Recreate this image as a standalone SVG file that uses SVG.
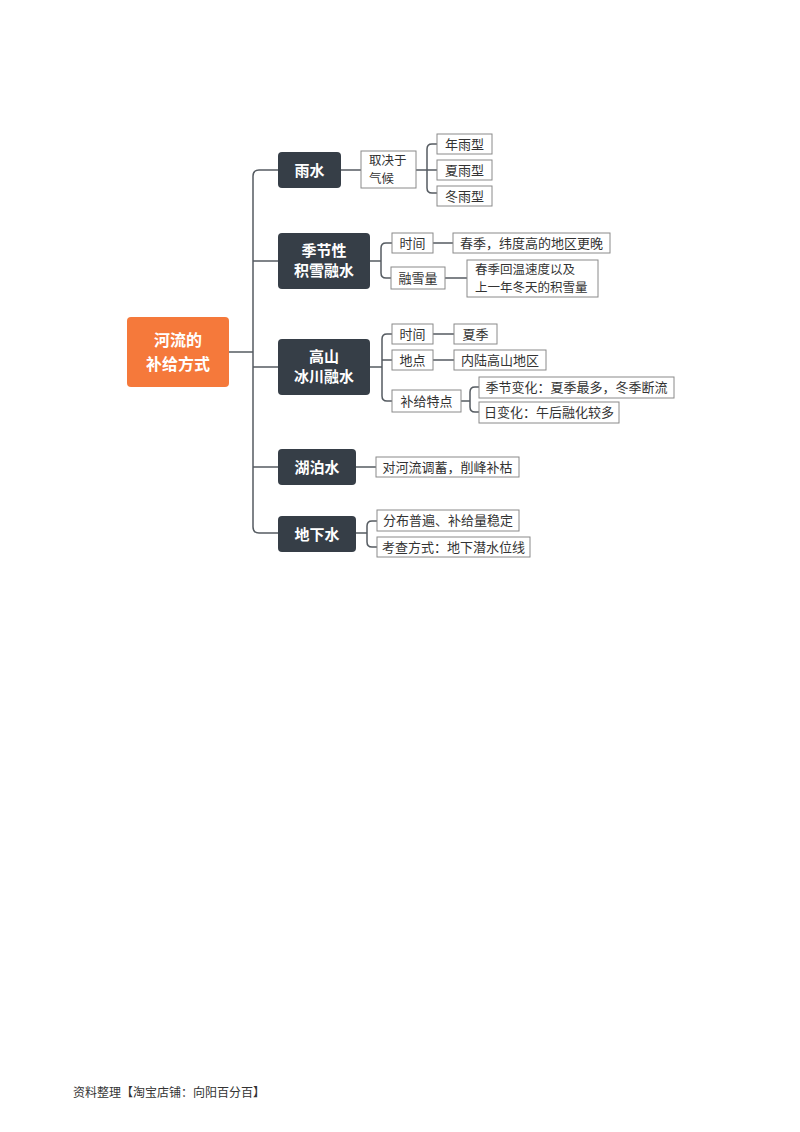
<svg xmlns="http://www.w3.org/2000/svg" width="800" height="1132" viewBox="0 0 800 1132">
<style>
.bg{fill:#ffffff}
.root rect{fill:#f5793b}
.main rect{fill:#363e47}
.root text,.main text{fill:#ffffff;font-family:"Noto Sans CJK SC","Noto Sans",sans-serif;font-weight:bold;font-size:15px;text-anchor:middle}
.root text{font-size:16px}
.leaf rect{fill:#ffffff;stroke:#8a8a8a;stroke-width:1}
.leaf text{fill:#333333;font-family:"Noto Sans CJK SC","Noto Sans",sans-serif;font-size:13px;text-anchor:middle}
.leaf text.two{font-size:12.5px;text-anchor:start}
#connectors path{fill:none;stroke:#555b61;stroke-width:1.5}
.foot{fill:#333;font-family:"Noto Sans CJK SC",sans-serif;font-size:12px}
</style>
<rect class="bg" x="0" y="0" width="800" height="1132"/>
<g id="connectors">
<path d="M229,352 H253"/>
<path d="M278,170 H259 Q253,170 253,176 V527 Q253,533 259,533 H278"/>
<path d="M253,261 H278 M253,367 H278 M253,467 H278"/>
<path d="M341,170 H361 M416,170 H437"/>
<path d="M437,144 H432 Q427,144 427,149 V188 Q427,193 432,193 H437"/>
<path d="M370,261 H381"/>
<path d="M392,243 H386 Q381,243 381,248 V273 Q381,278 386,278 H391"/>
<path d="M433,243 H453 M445,278 H467"/>
<path d="M370,367 H382"/>
<path d="M392,334 H387 Q382,334 382,339 V396 Q382,401 387,401 H392 M382,360 H392"/>
<path d="M433,334 H454 M433,360 H454"/>
<path d="M461,401 H470"/>
<path d="M479,387 H475 Q470,387 470,392 V407 Q470,412 475,412 H479"/>
<path d="M356,467 H376"/>
<path d="M356,533 H367"/>
<path d="M377,521 H372 Q367,521 367,526 V542 Q367,547 372,547 H377"/>
</g>
<g id="root" class="root"><rect x="127" y="317" width="102" height="70" rx="4"/><text x="178" y="346">河流的</text><text x="178" y="370">补给方式</text></g>
<g id="n-yushui" class="main"><rect x="278" y="152" width="63" height="36" rx="4"/><text x="309.5" y="175.5">雨水</text></g>
<g id="n-jixue" class="main"><rect x="278" y="233" width="92" height="56" rx="4"/><text x="324" y="256">季节性</text><text x="324" y="276">积雪融水</text></g>
<g id="n-bingchuan" class="main"><rect x="278" y="339" width="92" height="56" rx="4"/><text x="324" y="362">高山</text><text x="324" y="382">冰川融水</text></g>
<g id="n-hubo" class="main"><rect x="278" y="449" width="78" height="36" rx="4"/><text x="317" y="472.5">湖泊水</text></g>
<g id="n-dixia" class="main"><rect x="278" y="516" width="78" height="36" rx="4"/><text x="317" y="539.5">地下水</text></g>
<g id="l-qihou" class="leaf"><rect x="361" y="151" width="55" height="37"/><text class="two" x="369" y="165">取决于</text><text class="two" x="369" y="183">气候</text></g>
<g id="l-nian" class="leaf"><rect x="437" y="134" width="55" height="20"/><text x="464.5" y="148.5">年雨型</text></g>
<g id="l-xia" class="leaf"><rect x="437" y="160" width="55" height="20"/><text x="464.5" y="174.5">夏雨型</text></g>
<g id="l-dong" class="leaf"><rect x="437" y="186" width="55" height="20"/><text x="464.5" y="200.5">冬雨型</text></g>
<g id="l-shijian1" class="leaf"><rect x="392" y="233" width="41" height="20"/><text x="412.5" y="247.5">时间</text></g>
<g id="l-chunji" class="leaf"><rect x="453" y="233" width="157" height="20"/><text x="531.5" y="247.5">春季，纬度高的地区更晚</text></g>
<g id="l-rongxue" class="leaf"><rect x="391" y="267" width="54" height="22"/><text x="418" y="282.5">融雪量</text></g>
<g id="l-huiwen" class="leaf"><rect x="467" y="260" width="131" height="37"/><text class="two" x="475" y="274">春季回温速度以及</text><text class="two" x="475" y="292">上一年冬天的积雪量</text></g>
<g id="l-shijian2" class="leaf"><rect x="392" y="324" width="41" height="20"/><text x="412.5" y="338.5">时间</text></g>
<g id="l-xiaji" class="leaf"><rect x="454" y="324" width="43" height="20"/><text x="475.5" y="338.5">夏季</text></g>
<g id="l-didian" class="leaf"><rect x="392" y="350" width="41" height="20"/><text x="412.5" y="364.5">地点</text></g>
<g id="l-neilu" class="leaf"><rect x="454" y="350" width="92" height="20"/><text x="500" y="364.5">内陆高山地区</text></g>
<g id="l-tedian" class="leaf"><rect x="392" y="390" width="69" height="22"/><text x="426.5" y="405.5">补给特点</text></g>
<g id="l-jijie" class="leaf"><rect x="479" y="377" width="195" height="21"/><text x="576.5" y="392">季节变化：夏季最多，冬季断流</text></g>
<g id="l-ri" class="leaf"><rect x="479" y="402" width="140" height="21"/><text x="549" y="417">日变化：午后融化较多</text></g>
<g id="l-tiaoxu" class="leaf"><rect x="376" y="457" width="143" height="20"/><text x="447.5" y="471.5">对河流调蓄，削峰补枯</text></g>
<g id="l-fenbu" class="leaf"><rect x="377" y="510" width="142" height="21"/><text x="448" y="525">分布普遍、补给量稳定</text></g>
<g id="l-kaocha" class="leaf"><rect x="377" y="537" width="153" height="20"/><text x="453.5" y="551.5">考查方式：地下潜水位线</text></g>
<text class="foot" x="73" y="1097">资料整理【淘宝店铺：向阳百分百】</text>
</svg>
